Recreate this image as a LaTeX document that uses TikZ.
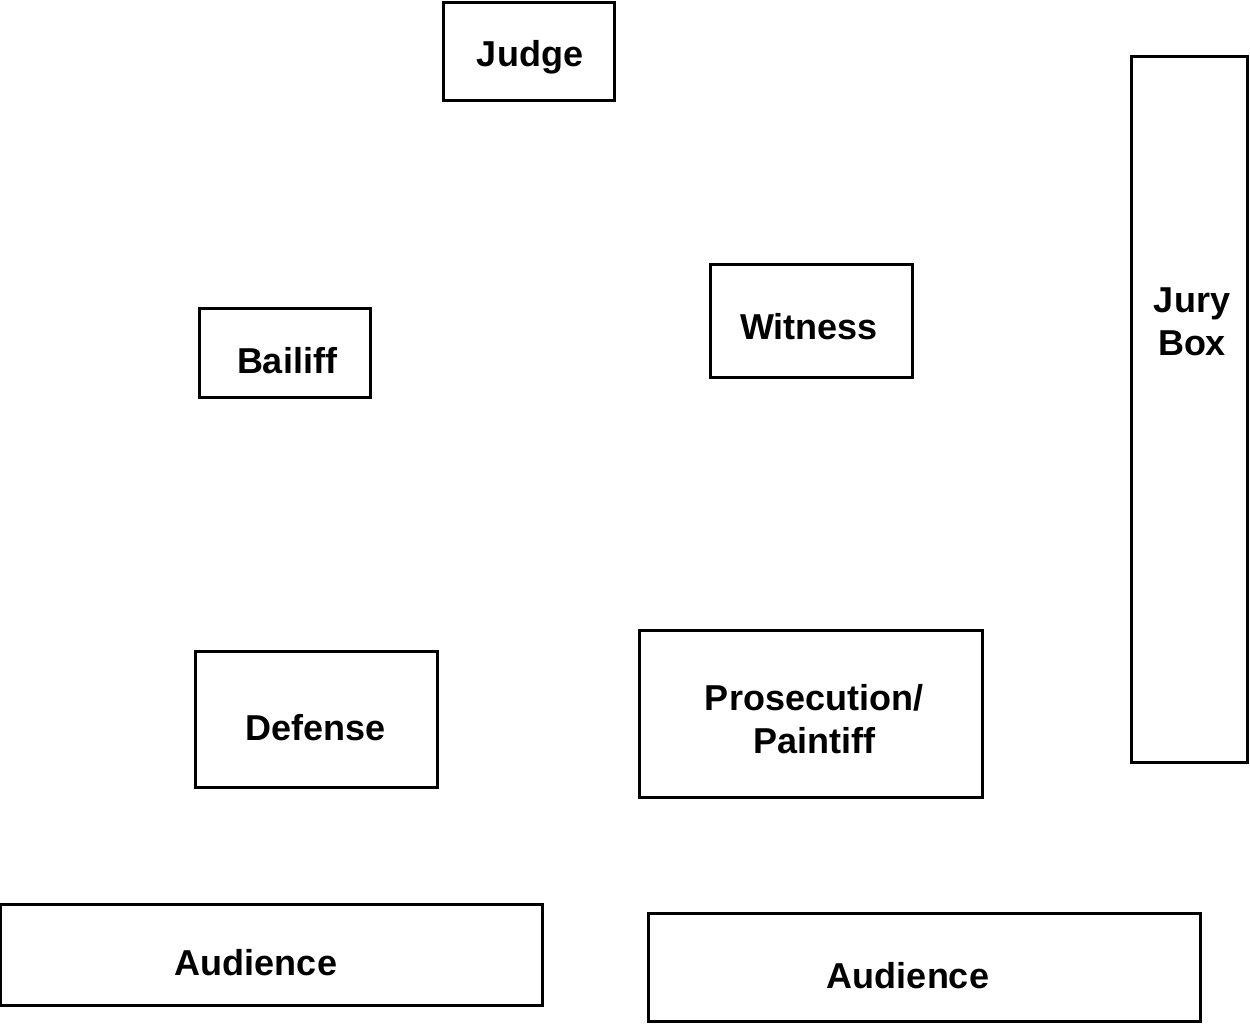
\documentclass[tikz,border=0pt]{standalone}
\usepackage{fontspec}
\setmainfont{Liberation Sans}
\begin{document}
\begin{tikzpicture}[x=1pt,y=-1pt,
  room/.style={draw=black, line width=3pt, rectangle, inner sep=0pt},
  lbl/.style={font=\fontsize{36}{43}\selectfont\bfseries, inner sep=0pt, text=black,
    text height=26pt, text depth=0pt},
  lbltwo/.style={font=\fontsize{36}{43}\selectfont\bfseries, align=center, inner sep=0pt, text=black}]
\useasboundingbox (0,0) rectangle (1250,1023);
% boxes
\node[room, minimum width=171pt, minimum height=98pt] (judge) at (528.5,51) {};
\node[room, minimum width=116pt, minimum height=706pt] (jury) at (1189,409) {};
\node[room, minimum width=202pt, minimum height=113pt] (witness) at (811,320.5) {};
\node[room, minimum width=171pt, minimum height=89pt] (bailiff) at (284.5,352.5) {};
\node[room, minimum width=242pt, minimum height=136pt] (defense) at (316,719) {};
\node[room, minimum width=343pt, minimum height=167pt] (prosecution) at (810.5,713.5) {};
\node[room, minimum width=542pt, minimum height=101pt] (audleft) at (271,954.5) {};
\node[room, minimum width=552pt, minimum height=108pt] (audright) at (924,967) {};
% labels
\node[lbl] (judgetxt) at (530,53) {Judge};
\node[lbltwo] (jurytxt) at (1192,321.5) {Jury\\Box};
\node[lbl] (witnesstxt) at (809,326) {Witness};
\node[lbl] (bailifftxt) at (287,360) {Bailiff};
\node[lbl] (defensetxt) at (316,727) {Defense};
\node[lbltwo] (prosecutiontxt) at (814,719.5) {Prosecution/\\Paintiff};
\node[lbl] (audlefttxt) at (256,962.5) {Audience};
\node[lbl] (audrighttxt) at (908,975) {Audience};
\end{tikzpicture}
\end{document}
